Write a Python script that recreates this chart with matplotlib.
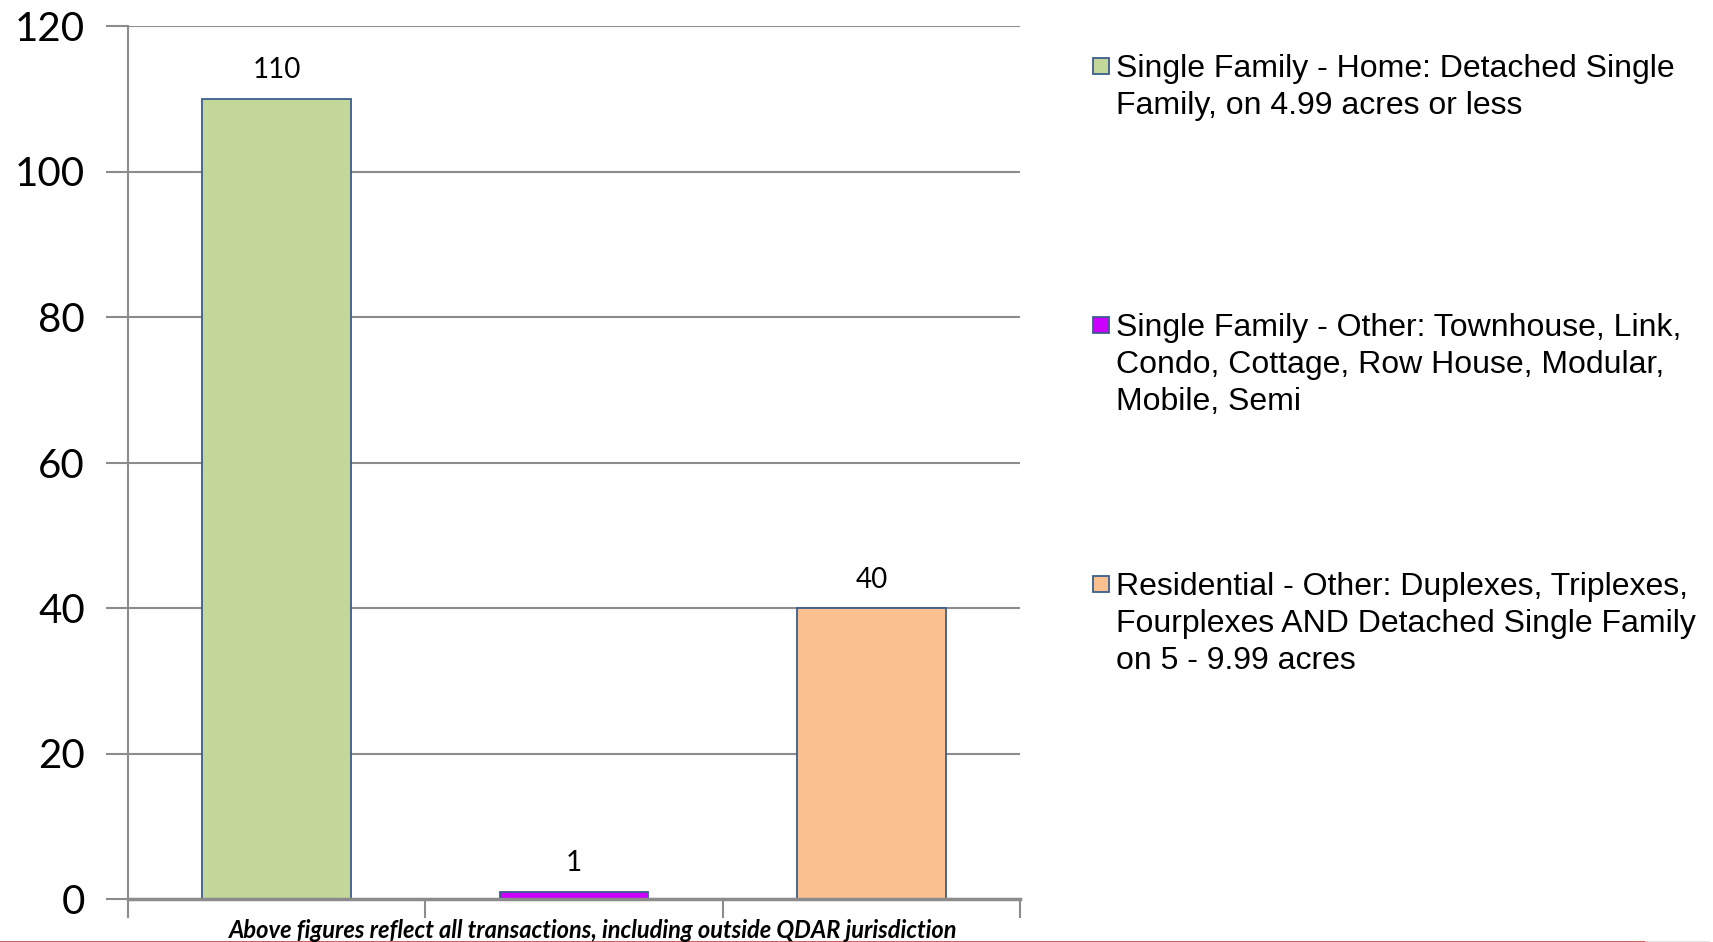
import matplotlib.pyplot as plt
from matplotlib.patches import Rectangle
from matplotlib.lines import Line2D

# chart data
categories = [
    "Single Family - Home: Detached Single\nFamily, on 4.99 acres or less",
    "Single Family - Other: Townhouse, Link,\nCondo, Cottage, Row House, Modular,\nMobile, Semi",
    "Residential - Other: Duplexes, Triplexes,\nFourplexes AND Detached Single Family\non 5 - 9.99 acres",
]
values = [110, 1, 40]
colors = ["#C4D79B", "#CC00FF", "#FAC090"]
y_ticks = [0, 20, 40, 60, 80, 100, 120]
note = "Above figures reflect all transactions, including outside QDAR jurisdiction"

W, H = 1713, 942
fig = plt.figure(figsize=(W / 100, H / 100), dpi=100)
ax = fig.add_axes([128 / W, (H - 899) / H, (1020 - 128) / W, (899 - 26) / H])

x = range(len(values))
bars = ax.bar(x, values, width=0.5, color=colors, edgecolor="#3B5E8C", linewidth=1.3, zorder=3)

ax.set_xlim(-0.5, len(values) - 0.5)
ax.set_ylim(0, 120)
ax.set_yticks(y_ticks)
ax.set_yticklabels([str(t) for t in y_ticks], fontsize=29, family="Lato")
ax.yaxis.grid(True, color="#8C8C8C", linewidth=1.5, zorder=0)
ax.tick_params(axis="y", length=16, width=1.5, color="#8C8C8C", pad=15)

# category boundary ticks, no labels
ax.set_xticks([i - 0.5 for i in range(len(values) + 1)])
ax.set_xticklabels([])
ax.tick_params(axis="x", length=14, width=1.5, color="#8C8C8C")

for s in ["top", "right"]:
    ax.spines[s].set_visible(False)
ax.spines["left"].set_color("#8C8C8C")
ax.spines["left"].set_linewidth(1.5)
ax.spines["bottom"].set_color("#8C8C8C")
ax.spines["bottom"].set_linewidth(2.5)
ax.spines["bottom"].set_zorder(4)

for b, v in zip(bars, values):
    ax.annotate(str(v), (b.get_x() + b.get_width() / 2, v), xytext=(0, 11),
                textcoords="offset points", ha="center", va="bottom",
                fontsize=20, family="Lato")

# legend drawn by hand to keep Excel-like spacing
tops = [53, 312, 571]
for lab, col, t in zip(categories, colors, tops):
    fig.patches.append(Rectangle((1093 / W, 1 - (t + 21) / H), 16 / W, 16 / H,
                                 transform=fig.transFigure, facecolor=col,
                                 edgecolor="#3B5E8C", linewidth=1.3))
    fig.text(1116 / W, 1 - (t + 1) / H, lab, fontsize=23, family="Liberation Sans",
             va="top", ha="left", linespacing=1.3)

fig.text(593 / W, 1 - 938 / H, note, fontsize=17, family="Lato", weight="bold",
         style="italic", ha="center", va="baseline")

fig.lines.append(Line2D([0, 1646 / W], [0.5 / H, 0.5 / H], transform=fig.transFigure,
                        color="#C0504D", linewidth=2))
fig.lines.append(Line2D([1646 / W, 1708 / W], [0.5 / H, 0.5 / H], transform=fig.transFigure,
                        color="#DDDDDD", linewidth=2))

fig.savefig("out.png", dpi=100)
